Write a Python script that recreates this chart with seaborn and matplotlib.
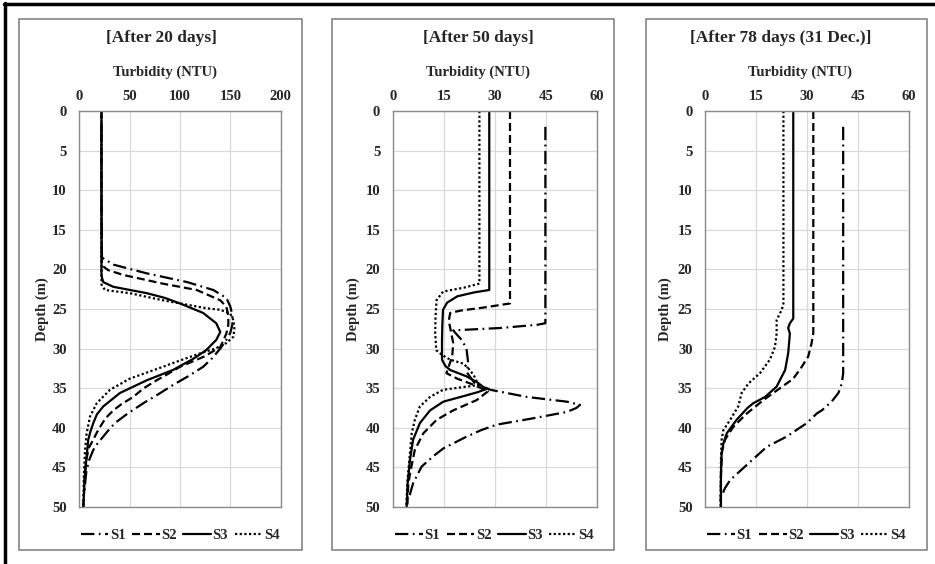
import matplotlib
matplotlib.use("Agg")
import matplotlib.pyplot as plt
import pandas as pd
import seaborn as sns
from matplotlib.lines import Line2D
from matplotlib.patches import Rectangle

# ---------------- data ----------------
series_names = ["S1", "S2", "S3", "S4"]
panel_titles = ["[After 20 days]", "[After 50 days]", "[After 78 days (31 Dec.)]"]
x_label = "Turbidity (NTU)"
y_label = "Depth (m)"
x_ticks = [[0, 50, 100, 150, 200], [0, 15, 30, 45, 60], [0, 15, 30, 45, 60]]
x_limits = [(0, 200), (0, 60), (0, 60)]
depth_ticks = [0, 5, 10, 15, 20, 25, 30, 35, 40, 45, 50]

# Panel 1: after 20 days
p1_s1_depth = [2, 10, 18.5, 19.4, 20.5, 21.6, 22.6, 23.6, 24.7, 25.8, 27, 28, 28.9, 30, 31.2, 32.3, 33.5,
               34.6, 35.8, 36.9, 38.2, 39.4, 40.3, 41.1, 42, 42.8, 44, 45.5, 48]
p1_s1_turb = [22, 22, 22.5, 34, 67, 107, 133, 146, 150, 152, 152, 150, 146, 140, 132, 123, 108,
              93, 78, 63.5, 48, 35.4, 29, 23.8, 18, 13.9, 10, 7, 5]
p1_s2_depth = [0, 10, 19.5, 20.1, 20.7, 21.8, 22.6, 23.9, 24.7, 25.8, 27, 28.1, 29, 29.8, 31, 32.3, 33.2,
               34, 35, 36.1, 37, 37.8, 38.8, 39.9, 40.7, 41.5, 42.5, 44, 46, 50]
p1_s2_turb = [22, 22, 22.5, 28.8, 43.7, 83, 116.6, 140, 146, 148, 148, 146, 143, 140, 124, 100, 88,
              76.8, 64, 53.6, 42, 33.8, 26, 20.6, 17, 13.9, 9.5, 7, 5.5, 4]
p1_s3_depth = [0, 10, 20.5, 20.9, 21.6, 22.2, 23, 23.6, 24.3, 25.5, 26.8, 27.9, 28.9, 30.2, 31.3, 32.7,
               34, 35.6, 37.3, 38.3, 39.4, 40.5, 41.5, 43.6, 46, 50]
p1_s3_turb = [22, 22, 22, 22.2, 23.8, 33.8, 67, 85, 100, 123, 136, 140, 136, 126, 113, 93,
              67, 40.4, 23.8, 17.5, 13.9, 11, 8.9, 7.3, 5.5, 4]
p1_s4_depth = [0, 10, 21.2, 21.9, 22.6, 23, 23.9, 24.9, 25.1, 25.6, 26.4, 27.5, 28.5, 29.3, 30, 30.6,
               31.5, 32.3, 33.8, 35.2, 36.9, 38.6, 40.7, 42.8, 46, 50]
p1_s4_turb = [22, 22, 22, 22, 25.5, 50, 83, 126, 140, 150, 153, 154, 153, 146, 135, 120,
              100, 83, 50, 30.5, 17.3, 10.6, 7.3, 5.7, 4.5, 4]

# Panel 2: after 50 days
p2_s1_depth = [2, 10, 20, 26.8, 27.0, 27.4, 27.7, 28.3, 28.9, 30, 31.8, 33, 34.3, 35.2, 36.1, 36.7, 37.1,
               37.5, 38, 38.8, 39.6, 40.3, 41.1, 42.6, 43.6, 44.9, 47, 48.5]
p2_s1_turb = [44.9, 44.9, 44.9, 44.9, 42.4, 31.6, 17.8, 19, 20.3, 21.7, 22.2, 21.8, 24, 28.7, 39.4, 51.2, 55.1,
              54, 51.2, 41.3, 30.6, 26, 21.8, 14.9, 11.9, 8.5, 6, 5]
p2_s2_depth = [0, 10, 20, 24.3, 24.8, 25.2, 25.5, 26.5, 28, 29.3, 31, 33.1, 33.8, 34.6, 35.4, 36.5, 37.8,
               39, 40.7, 42.8, 44.9, 47, 50]
p2_s2_turb = [34.5, 34.5, 34.5, 34.5, 27, 20, 16.9, 16.5, 17.2, 17.8, 17.5, 15.8, 19, 24, 28, 24.7, 17.8,
              12.9, 9, 6.5, 5.5, 4.6, 4.3]
p2_s3_depth = [0, 10, 20, 22.6, 22.9, 23.4, 24.2, 25.1, 27, 29, 31.4, 32.2, 32.7, 33.5, 34.3, 34.8, 35.1,
               35.5, 35.9, 36.7, 37.8, 39.4, 41.5, 44, 47, 50]
p2_s3_turb = [28.4, 28.4, 28.4, 28.4, 24, 19, 16, 14.8, 14.6, 14.5, 14.5, 15.5, 16.9, 21.7, 25, 26.5, 27.6,
              25, 21.7, 14.9, 11, 8, 6, 5.1, 4.4, 4.1]
p2_s4_depth = [0, 10, 20, 21.8, 22.3, 22.8, 23.9, 26, 28, 30.2, 30.8, 31.4, 31.9, 32.7, 33.5, 34.6, 35.2,
               36.1, 37.3, 39, 40.7, 44, 47, 50]
p2_s4_turb = [25.5, 25.5, 25.5, 25.5, 21, 14.8, 12.9, 12.6, 12.5, 12.8, 14.5, 16.9, 20.8, 22.7, 24, 25.2, 14.8,
              11, 8, 6.5, 5.6, 4.9, 4.3, 4.0]

# Panel 3: after 78 days
p3_s1_depth = [2, 10, 20, 30, 33.1, 34.4, 35.6, 36.7, 37.8, 38.2, 39.4, 41.1, 42.4, 44.3, 46.6, 47.6, 48.3]
p3_s1_turb = [40.7, 40.7, 40.7, 40.7, 40.7, 40.3, 39.3, 37.3, 34.4, 32.9, 30, 24.1, 18.2, 13.3, 7.4, 5.9, 5.2]
p3_s2_depth = [0, 10, 20, 28, 29.3, 31, 32.3, 33.8, 35, 36.5, 38.2, 39.9, 41.5, 43, 46, 50]
p3_s2_turb = [31.9, 31.9, 31.9, 31.9, 31.4, 30.4, 28.5, 26, 22.1, 17.2, 12.3, 8.3, 5.9, 5, 4.7, 4.6]
p3_s3_depth = [0, 10, 20, 26.2, 26.8, 27.4, 28.1, 30.6, 32.7, 34.8, 36.1, 36.9, 37.5, 39, 40.7, 42, 43.2, 46, 50]
p3_s3_turb = [26, 26, 26, 26, 25, 24.5, 25, 24.5, 23.6, 21.1, 17.7, 14.2, 12.5, 9.3, 6.4, 5.4, 4.9, 4.7, 4.7]
p3_s4_depth = [0, 10, 20, 24.3, 25.1, 26.4, 28.1, 29.8, 31.4, 33.1, 34.4, 35.6, 37.3, 39, 40.3, 41.5, 44, 50]
p3_s4_turb = [23.1, 23.1, 23.1, 23.1, 22.6, 21.1, 21.1, 20.6, 19.1, 16.2, 12.8, 10.8, 9.8, 7.4, 5.4, 4.9, 4.7, 4.6]

panels = [
    [(p1_s1_depth, p1_s1_turb), (p1_s2_depth, p1_s2_turb), (p1_s3_depth, p1_s3_turb), (p1_s4_depth, p1_s4_turb)],
    [(p2_s1_depth, p2_s1_turb), (p2_s2_depth, p2_s2_turb), (p2_s3_depth, p2_s3_turb), (p2_s4_depth, p2_s4_turb)],
    [(p3_s1_depth, p3_s1_turb), (p3_s2_depth, p3_s2_turb), (p3_s3_depth, p3_s3_turb), (p3_s4_depth, p3_s4_turb)],
]

# ---------------- style ----------------
sns.set_style("white")
plt.rcParams["font.family"] = ["Liberation Serif", "DejaVu Serif"]
plt.rcParams["font.weight"] = "bold"

dash_map = {"S1": (6, 2, 0.8, 2), "S2": (3.6, 1.8), "S3": "", "S4": (1, 1.1)}

W, H = 935, 564
fig = plt.figure(figsize=(W / 100, H / 100), dpi=100)

def fx(px):
    return px / W

def fy(py):
    return 1 - py / H

axes_left = [79.3, 392.7, 705]
axes_right = [280.7, 596.7, 908.7]
ax_top, ax_bottom = 111, 507
box_left = [19, 332, 646]
box_right = [302, 614, 927]
title_cx = [161, 478, 781]
xlabel_cx = [165, 478, 800]
ylabel_x = [42, 353, 665]

# outer frame lines (top and left)
fig.add_artist(Line2D([fx(4), 1], [fy(4), fy(4)], color="black", lw=2.5, transform=fig.transFigure))
fig.add_artist(Line2D([fx(5), fx(5)], [0, fy(3)], color="black", lw=2.5, transform=fig.transFigure))

for i in range(3):
    # panel box
    fig.add_artist(Rectangle((fx(box_left[i]), fy(550)), fx(box_right[i] - box_left[i]), (550 - 19) / H,
                             fill=False, edgecolor="#7a7a7a", lw=1.1, transform=fig.transFigure))
    ax = fig.add_axes([fx(axes_left[i]), fy(ax_bottom), fx(axes_right[i] - axes_left[i]),
                       (ax_bottom - ax_top) / H])
    rows = []
    for name, (d, v) in zip(series_names, panels[i]):
        for dd, vv in zip(d, v):
            rows.append({"series": name, "depth": dd, "turb": vv})
    df = pd.DataFrame(rows)
    sns.lineplot(data=df, x="turb", y="depth", style="series", dashes=dash_map, color="black",
                 sort=False, estimator=None, linewidth=1.6, ax=ax, legend=True)
    handles, labels = ax.get_legend_handles_labels()
    ax.get_legend().remove()

    ax.set_xlim(*x_limits[i])
    ax.set_ylim(50, 0)
    ax.set_xticks(x_ticks[i])
    ax.set_yticks(depth_ticks)
    ax.xaxis.tick_top()
    ax.set_xlabel("")
    ax.set_ylabel("")
    ax.tick_params(axis="both", length=0, labelsize=10.5)
    ax.tick_params(axis="x", pad=6)
    ax.tick_params(axis="y", pad=9)
    for lab in ax.get_xticklabels() + ax.get_yticklabels():
        lab.set_fontweight("bold")
    ax.grid(True, color="#d9d9d9", lw=0.9)
    for sp in ax.spines.values():
        sp.set_color("#8a8a8a")
        sp.set_linewidth(1.0)

    leg = ax.legend(handles, labels, loc="center", bbox_to_anchor=(0.5, -0.072), ncol=4, frameon=False,
                    handlelength=1.9, handletextpad=0.1, columnspacing=0.45,
                    prop={"weight": "bold", "size": 10.5})

    fig.text(fx(title_cx[i]), fy(38), panel_titles[i], ha="center", va="center",
             fontsize=12.5, fontweight="bold")
    fig.text(fx(xlabel_cx[i]), fy(72), x_label, ha="center", va="center",
             fontsize=10.5, fontweight="bold")
    fig.text(fx(ylabel_x[i]), fy(309), y_label, ha="center", va="center", rotation=90,
             fontsize=10.5, fontweight="bold")

fig.savefig("out.png", dpi=100)
